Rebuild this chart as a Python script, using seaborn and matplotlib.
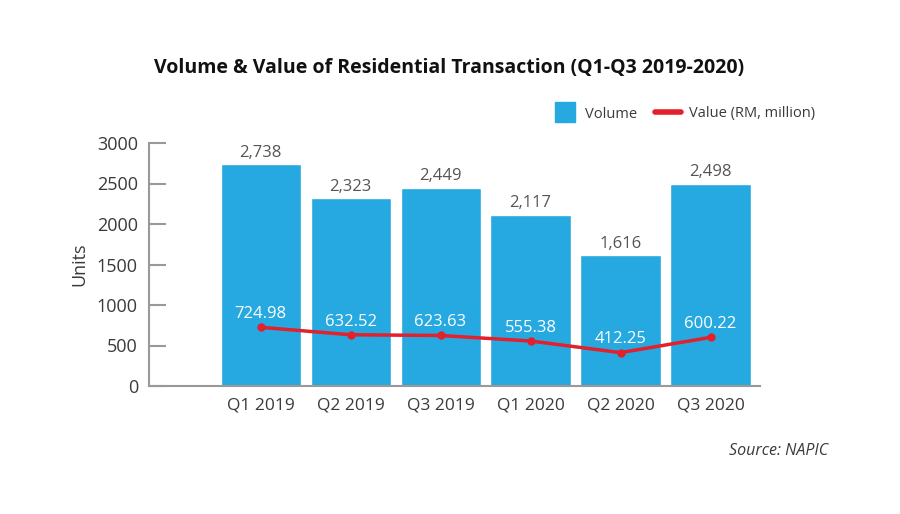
import matplotlib
matplotlib.use("Agg")
import matplotlib.pyplot as plt
import seaborn as sns
import pandas as pd
from matplotlib.lines import Line2D

quarters = ["Q1 2019", "Q2 2019", "Q3 2019", "Q1 2020", "Q2 2020", "Q3 2020"]
volume = [2738, 2323, 2449, 2117, 1616, 2498]
value = [724.98, 632.52, 623.63, 555.38, 412.25, 600.22]

df = pd.DataFrame({"Quarter": quarters, "Volume": volume, "Value": value})

sns.set_theme(style="white")
plt.rcParams['font.family'] = ['Open Sans', 'DejaVu Sans']

BLUE = "#25A9E0"
RED = "#E3202B"
GRAY = "#3a3a3a"

fig = plt.figure(figsize=(9, 5.14), dpi=100)
ax = fig.add_axes([149/900, 1-386/514, (760-149)/900, (386-143)/514])

sns.barplot(data=df, x="Quarter", y="Volume", color=BLUE, width=0.89,
            saturation=1, ax=ax)
sns.lineplot(data=df, x="Quarter", y="Value", color=RED, lw=2.5,
             marker="o", markersize=6, markeredgewidth=0, ax=ax, sort=False)

for i, (v, w) in enumerate(zip(volume, value)):
    ax.text(i, v + 40, f"{v:,}", ha="center", va="bottom", fontsize=12, color="#555555")
    ax.text(i, w + 65, f"{w:.2f}", ha="center", va="bottom", fontsize=12, color="white")

ax.set_xlim(-1.24, 5.55)
ax.set_ylim(0, 3000)
ax.set_yticks([0, 500, 1000, 1500, 2000, 2500, 3000])
ax.tick_params(axis="y", left=True, direction="in", length=12, width=1.5, color="#999999",
               labelsize=13, labelcolor=GRAY, pad=8)
ax.tick_params(axis="x", bottom=False, length=0, labelsize=12.5, labelcolor=GRAY, pad=8)
ax.set_xlabel("")
ax.set_ylabel("Units", fontsize=13, color=GRAY, labelpad=6)
for s in ["top", "right"]:
    ax.spines[s].set_visible(False)
for s in ["left", "bottom"]:
    ax.spines[s].set_color("#999999")
    ax.spines[s].set_linewidth(1.5)

fig.text(449/900, 1-68/514, "Volume & Value of Residential Transaction (Q1-Q3 2019-2020)",
         ha="center", va="center", fontsize=14, fontweight="bold", color="#111111")

handles = [Line2D([0], [0], color=BLUE, lw=0, marker="s", markersize=14, label="Volume"),
           Line2D([0], [0], color=RED, lw=4, label="Value (RM, million)")]
leg = fig.legend(handles=handles, loc="center right", bbox_to_anchor=(822/900, 1-114/514),
                 ncol=2, frameon=False, fontsize=10.5, handlelength=1.8, columnspacing=1.2,
                 handletextpad=0.5, borderpad=0)
for t in leg.get_texts():
    t.set_color(GRAY)

fig.text(828/900, 1-451/514, "Source: NAPIC", ha="right", va="center",
         fontsize=11.5, style="italic", color=GRAY)

fig.savefig("out.png", dpi=100)
